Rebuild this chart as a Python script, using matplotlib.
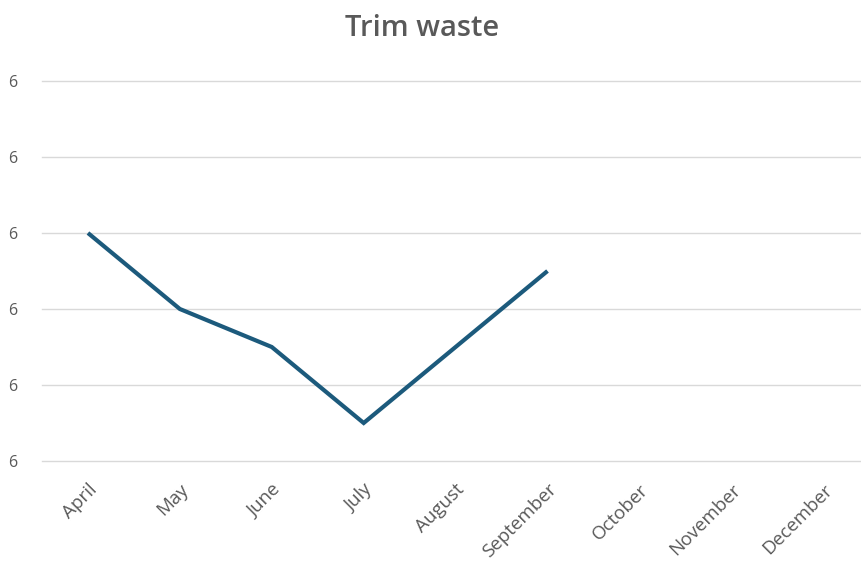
import matplotlib
matplotlib.use("Agg")
import matplotlib.pyplot as plt

months = ["April", "May", "June", "July", "August", "September",
          "October", "November", "December"]
values = [3.0, 2.0, 1.5, 0.5, 1.5, 2.5]
ytick_vals = [0, 1, 2, 3, 4, 5]
ytick_labels = ["6", "6", "6", "6", "6", "6"]

plt.rcParams["font.family"] = ["Open Sans", "DejaVu Sans"]
fig = plt.figure(figsize=(8.62, 5.67), dpi=100)
L, R = 42 / 862, 860 / 862
B, T = 1 - 461 / 567, 1 - 81 / 567
ax = fig.add_axes([L, B, R - L, T - B])

ax.plot(range(len(values)), values, color="#1c5a7c", lw=3.0, solid_capstyle="butt",
        solid_joinstyle="miter")
ax.set_xlim(-0.5, 8.4)
ax.set_ylim(0, 5)
ax.set_yticks(ytick_vals)
ax.set_yticklabels(ytick_labels, color="#595959", fontsize=11.5)
ax.set_xticks(range(len(months)))
ax.set_xticklabels(months, rotation=45, ha="right", rotation_mode="anchor",
                   color="#595959", fontsize=13.5)
ax.tick_params(axis="y", length=0, pad=18)
ax.tick_params(axis="x", length=0, pad=14)
ax.grid(axis="y", color="#d9d9d9", lw=1)
for gl in ax.get_ygridlines():
    gl.set_clip_on(False)
ax.set_axisbelow(True)
for s in ax.spines.values():
    s.set_visible(False)
fig.text(0.490, 1 - 28 / 567, "Trim waste", ha="center", va="center",
         fontsize=21, color="#595959", fontweight="semibold")
fig.savefig("out.png", dpi=100)
